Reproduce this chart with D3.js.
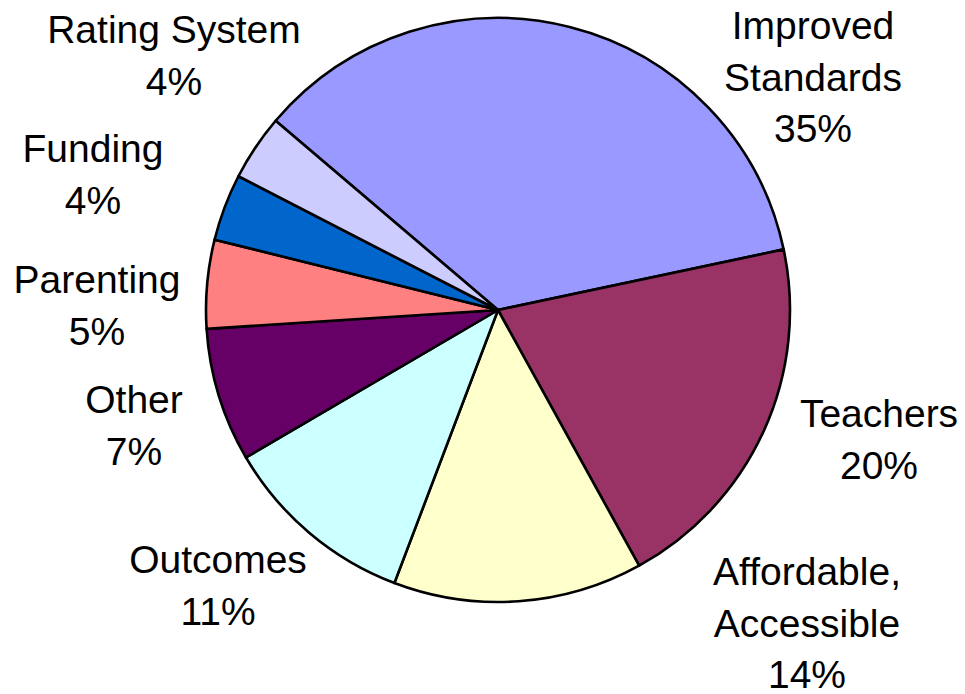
<!DOCTYPE html>
<html>
<head>
<meta charset="utf-8">
<script src="https://cdn.jsdelivr.net/npm/d3@7"></script>
<style>
  html, body { margin: 0; padding: 0; background: #fff; }
  svg { display: block; }
</style>
</head>
<body>
<svg id="chart" width="965" height="694"></svg>
<script>
// ---- data ----
const categories = ["Improved Standards", "Teachers", "Affordable, Accessible", "Outcomes", "Other", "Parenting", "Funding", "Rating System"];
const values = [35.45, 20.3, 13.8, 10.8, 7.4, 4.9, 3.7, 3.65];
const labelLines = [
  ["Improved", "Standards"],
  ["Teachers"],
  ["Affordable,", "Accessible"],
  ["Outcomes"],
  ["Other"],
  ["Parenting"],
  ["Funding"],
  ["Rating System"]
];
const colors = ["#9999FF", "#993366", "#FFFFCC", "#CCFFFF", "#660066", "#FF8080", "#0066CC", "#CCCCFF"];

// ---- layout (not data) ----
const W = 965, H = 694;
const cx = 498, cy = 310, radius = 292;
const startDeg = -49.6;
const fontSize = 39, lineH = 51.5;
// label anchor: centre x and first baseline y, relative to pie centre
const labelOffsets = [
  [315, -271], [381, 117], [309, 275], [-280, 263],
  [-364, 103], [-401, -17], [-405, -148], [-324, -267]
];

const svg = d3.select("#chart");
const g = svg.append("g").attr("transform", `translate(${cx},${cy})`);

const total = d3.sum(values);
const pie = d3.pie().sort(null).value(d => d)
  .startAngle(startDeg * Math.PI / 180)
  .endAngle(startDeg * Math.PI / 180 + 2 * Math.PI);
const arc = d3.arc().innerRadius(0).outerRadius(radius);
const arcs = pie(values);

g.selectAll("path.slice").data(arcs).enter().append("path")
  .attr("class", "slice")
  .attr("d", arc)
  .attr("fill", (d, i) => colors[i])
  .attr("stroke", "#000")
  .attr("stroke-width", 2.6)
  .attr("stroke-linejoin", "round");

const labels = g.selectAll("text.lbl").data(arcs).enter().append("text")
  .attr("class", "lbl")
  .attr("text-anchor", "middle")
  .attr("font-family", "'Liberation Sans', Arial, sans-serif")
  .attr("font-size", fontSize)
  .attr("fill", "#000")
  .attr("transform", (d, i) => `translate(${labelOffsets[i][0]},${labelOffsets[i][1]})`);

labels.each(function(d, i) {
  const t = d3.select(this);
  const lines = labelLines[i].concat([Math.round(d.value / total * 100) + "%"]);
  lines.forEach((ln, k) => {
    t.append("tspan").attr("x", 0).attr("y", k * lineH).text(ln);
  });
});
</script>
</body>
</html>
